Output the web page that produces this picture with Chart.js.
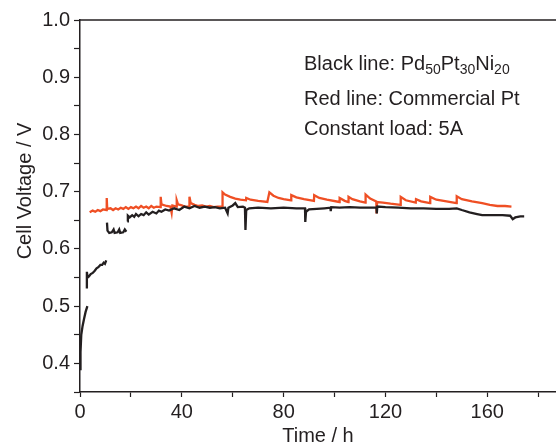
<!DOCTYPE html>
<html>
<head>
<meta charset="utf-8">
<script src="https://cdn.jsdelivr.net/npm/chart.js@4"></script>
<style>
  html, body { margin: 0; padding: 0; background: #fff; }
  #wrap { width: 556px; height: 448px; }
</style>
</head>
<body>
<div id="wrap"><canvas id="chart" width="556" height="448"></canvas></div>
<script>
// Pd50Pt30Ni20 cell (black); null voltage breaks the trace between segments
const blackTime = [
  0, 0.2, 0.5, 1.0, 1.6, 2.2, 2.9, 2.8,
  2.7, 2.7, 3.0, 3.5, 4.2, 5, 5.8, 6.5, 7.2, 8.0, 8.7, 9.3, 9.8, 10.3, 10.4,
  10.6, 10.8, 11.5, 12.5, 13.2, 13.6, 14.8, 15.4, 15.8, 17, 17.6, 18.2, 18.4,
  18.6, 18.8, 19.5, 20.5, 21.3, 22, 23, 24, 25, 26, 27, 28.5, 30, 31, 32, 33.5, 35, 37, 39,
  41, 43, 45, 47, 49, 51, 53, 55, 57, 58, 58.3, 60, 61, 62, 64, 64.8, 65, 65.3, 66.5,
  70, 75, 80, 85, 88.4, 88.5, 88.8, 90, 93, 96, 98.4, 98.5, 98.7, 102, 106, 110, 114,
  116.5, 116.6, 116.8, 120, 125, 130, 135, 140, 145, 148, 150, 153, 156, 158, 162, 166,
  169, 170, 171, 173, 174.5
];
const blackVolt = [
  0.39, 0.42, 0.45, 0.465, 0.478, 0.49, 0.50, null,
  0.531, 0.56, 0.55, 0.552, 0.556, 0.558, 0.562, 0.566, 0.568, 0.572, 0.572, 0.576, 0.574, 0.58, null,
  0.646, 0.632, 0.628, 0.629, 0.634, 0.628, 0.629, 0.634, 0.628, 0.629, 0.634, 0.63, null,
  0.648, 0.658, 0.655, 0.659, 0.656, 0.661, 0.657, 0.661, 0.659, 0.664, 0.66, 0.665, 0.662, 0.667, 0.665, 0.669, 0.667, 0.671, 0.668,
  0.674, 0.671, 0.675, 0.672, 0.674, 0.672, 0.673, 0.671, 0.672, 0.662, 0.672, 0.676, 0.68, 0.673, 0.674, 0.672, 0.633, 0.668, 0.671,
  0.672, 0.671, 0.672, 0.671, 0.671, 0.647, 0.665, 0.669, 0.67, 0.671, 0.672, 0.666, 0.673, 0.672, 0.673, 0.672, 0.672,
  0.672, 0.662, 0.674, 0.673, 0.672, 0.671, 0.671, 0.670, 0.670, 0.671, 0.668, 0.664, 0.661, 0.659, 0.659, 0.659,
  0.658, 0.652, 0.655, 0.657, 0.657
];

// commercial Pt cell (red)
const redTime = [
  3.8, 5, 6, 7, 8, 9, 10.4, 10.5, 10.7, 12, 13, 14, 15, 16, 17, 18, 19, 20, 21, 22, 23, 24, 25, 26, 27, 28, 29, 30,
  31.6, 31.7, 32, 34, 35.5, 36, 36.3, 37.9, 38, 38.5, 40, 41, 42.9, 43, 43.5, 45, 46.5, 48, 49.5, 51, 52.5, 54,
  55.9, 56, 57, 59, 61, 63, 65.2, 65.3, 67, 70, 73.6, 74.4, 76, 78, 80, 82.9,
  83, 85, 88, 91.9, 92, 94, 97, 101.9, 102, 104, 105.4, 105.5, 107, 110, 112.1,
  112.2, 114, 116.4, 116.5, 116.7, 119, 122, 125.9, 126, 128, 131.9, 132, 134, 137.5,
  137.6, 140, 144, 147.9, 148, 150, 154, 158, 161, 164, 167, 169.5
];
const redVolt = [
  0.664, 0.667, 0.665, 0.668, 0.666, 0.669, 0.668, 0.689, 0.67, 0.671, 0.668, 0.671, 0.669, 0.672, 0.67, 0.673, 0.67, 0.673, 0.671, 0.674, 0.671, 0.675, 0.672, 0.674, 0.671, 0.675, 0.672, 0.674,
  0.673, 0.691, 0.678, 0.675, 0.674, 0.663, 0.676, 0.674, 0.685, 0.678, 0.676, 0.674, 0.674, 0.691, 0.68, 0.677, 0.675, 0.676, 0.674, 0.675, 0.673, 0.674,
  0.674, 0.699, 0.695, 0.691, 0.688, 0.686, 0.685, 0.689, 0.686, 0.684, 0.682, 0.699, 0.693, 0.689, 0.687, 0.685,
  0.694, 0.69, 0.687, 0.684, 0.694, 0.689, 0.686, 0.682, 0.689, 0.684, 0.682, 0.691, 0.687, 0.683, 0.681,
  0.695, 0.688, 0.683, 0.662, 0.682, 0.681, 0.679, 0.677, 0.691, 0.685, 0.681, 0.687, 0.683, 0.68,
  0.691, 0.686, 0.683, 0.68, 0.692, 0.687, 0.683, 0.68, 0.677, 0.675, 0.675, 0.674
];

const xLabelEvery = 40;   // h, labelled ticks
const yLabelEvery = 0.1;  // V, labelled ticks

const textColor = '#231f20';
const fontFamily = "'Liberation Sans', Arial, Helvetica, sans-serif";

function toPoints(xs, ys) {
  return xs.map((x, i) => ({ x: x, y: ys[i] }));
}

// top frame line, y title, and the text block in the upper right
const extras = {
  id: 'extras',
  afterDraw(chart) {
    const ctx = chart.ctx;
    const a = chart.chartArea;
    ctx.save();
    ctx.strokeStyle = textColor;
    ctx.lineWidth = 1.5;
    ctx.beginPath();
    ctx.moveTo(a.left, a.top);
    ctx.lineTo(a.right, a.top);
    ctx.stroke();

    ctx.fillStyle = textColor;
    ctx.font = '20px ' + fontFamily;
    ctx.textBaseline = 'alphabetic';

    // y axis title
    ctx.save();
    ctx.translate(31, 191);
    ctx.rotate(-Math.PI / 2);
    ctx.textAlign = 'center';
    ctx.fillText('Cell Voltage / V', 0, 0);
    ctx.restore();

    ctx.textAlign = 'left';
    let x = 304;
    const parts = [['Black line: Pd', false], ['50', true], ['Pt', false], ['30', true], ['Ni', false], ['20', true]];
    parts.forEach(([s, sub]) => {
      ctx.font = (sub ? '14px ' : '20px ') + fontFamily;
      ctx.fillText(s, x, sub ? 74 : 69.5);
      x += ctx.measureText(s).width;
    });
    ctx.font = '20px ' + fontFamily;
    ctx.fillText('Red line: Commercial Pt', 304, 105);
    ctx.fillText('Constant load: 5A', 304, 135);
    ctx.restore();
  }
};

new Chart(document.getElementById('chart'), {
  type: 'line',
  data: {
    datasets: [{
      label: 'Pd50Pt30Ni20',
      data: toPoints(blackTime, blackVolt),
      borderColor: '#231f20',
      borderWidth: 2.3,
      pointRadius: 0,
      tension: 0,
      spanGaps: false
    }, {
      label: 'Commercial Pt',
      data: toPoints(redTime, redVolt),
      borderColor: '#ef4f24',
      borderWidth: 2.3,
      pointRadius: 0,
      tension: 0,
      spanGaps: false
    }]
  },
  options: {
    responsive: false,
    animation: false,
    layout: { padding: { top: 20, right: 0, left: 0, bottom: 0 } },
    plugins: {
      legend: { display: false },
      tooltip: { enabled: false }
    },
    scales: {
      x: {
        type: 'linear',
        min: 0,
        max: 187,
        afterFit: (s) => { s.height = 56; },
        border: { display: true, color: textColor, width: 1.5 },
        grid: { drawOnChartArea: false, drawTicks: true, tickLength: 5, color: textColor, tickWidth: 1.2 },
        ticks: {
          stepSize: 20,
          includeBounds: false,
          padding: 3,
          maxRotation: 0,
          autoSkip: false,
          color: textColor,
          font: { family: fontFamily, size: 20 },
          callback: (v) => (Math.round(v) % xLabelEvery === 0 ? String(Math.round(v)) : '')
        },
        title: {
          display: true,
          text: 'Time / h',
          color: textColor,
          font: { family: fontFamily, size: 20 },
          padding: { top: 0, bottom: 0 }
        }
      },
      y: {
        type: 'linear',
        min: 0.35,
        max: 1.0,
        afterFit: (s) => { s.width = 80; },
        border: { display: true, color: textColor, width: 1.5 },
        grid: { drawOnChartArea: false, drawTicks: true, tickLength: 6, color: textColor, tickWidth: 1.2 },
        ticks: {
          stepSize: 0.05,
          includeBounds: false,
          padding: 4,
          autoSkip: false,
          color: textColor,
          font: { family: fontFamily, size: 20 },
          callback: (v) => {
            const k = Math.round(v * 100);
            return k % Math.round(yLabelEvery * 100) === 0 ? (k / 100).toFixed(1) : '';
          }
        }
      }
    }
  },
  plugins: [extras]
});
</script>
</body>
</html>
